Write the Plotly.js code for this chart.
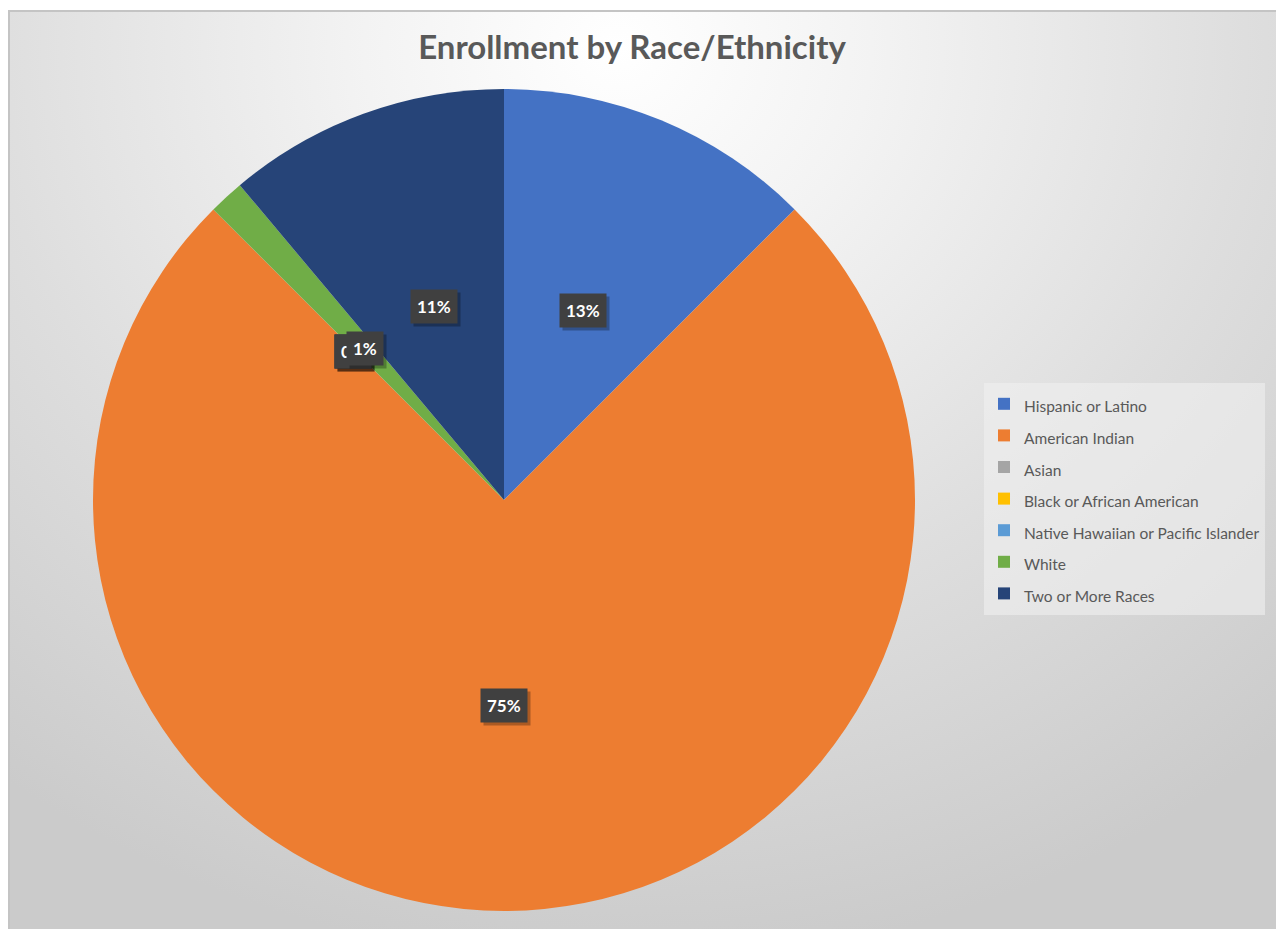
<!DOCTYPE html>
<html>
<head>
<meta charset="utf-8">
<script src="https://cdn.plot.ly/plotly-3.0.1.min.js"></script>
<style>
  html, body { margin: 0; padding: 0; background: #ffffff; }
  #bg {
    position: absolute; left: 8px; top: 10px; width: 1268px; height: 919px;
    box-sizing: border-box;
    border-top: 2px solid #c4c4c4; border-left: 2px solid #c4c4c4;
    background: radial-gradient(ellipse 80% 100% at 48% 4%, #ffffff 0%, #f3f3f3 25%, #dedede 62%, #cbcbcb 100%);
  }
  #chart { position: absolute; left: 0; top: 0; width: 1276px; height: 929px; }
</style>
</head>
<body>
<div id="bg"></div>
<div id="chart"></div>
<script>
// ---- data ----
const categories = ["Hispanic or Latino", "American Indian", "Asian", "Black or African American",
                    "Native Hawaiian or Pacific Islander", "White", "Two or More Races"];
const enrollment = [9, 54, 0, 0, 0, 1, 8];
const sliceColors = ["#4472C4", "#ED7D31", "#A5A5A5", "#FFC000", "#5B9BD5", "#70AD47", "#264478"];
const chartTitle = "Enrollment by Race/Ethnicity";

// ---- geometry of pie domain ----
const W = 1276, H = 929;
const domX = [93 / W, 915 / W];
const domY = [(H - 911) / H, (H - 89) / H];

// legend labels: small text inside a larger legend font gives taller rows
const legendLabels = categories.map(c => '<span style="font-size:15.5px">' + c + '</span>');

const trace = {
  type: 'pie',
  labels: legendLabels,
  values: enrollment,
  sort: false,
  direction: 'clockwise',
  rotation: 0,
  marker: { colors: sliceColors, line: { width: 0 } },
  textinfo: 'none',
  hoverinfo: 'none',
  domain: { x: domX, y: domY },
  showlegend: true
};

// label annotations computed from the data (half radius, slice mid-angle)
const total = enrollment.reduce((a, b) => a + b, 0);
const cx = (domX[0] + domX[1]) / 2, cy = (domY[0] + domY[1]) / 2;
const rx = (domX[1] - domX[0]) / 2, ry = (domY[1] - domY[0]) / 2;
const annotations = [];
let cum = 0;
const labelInfo = enrollment.map((v, i) => {
  const mid = (cum + v / 2) / total * 2 * Math.PI;
  cum += v;
  return { i, v, x: cx + 0.5 * rx * Math.sin(mid), y: cy + 0.5 * ry * Math.cos(mid) };
});
const ordered = labelInfo.filter(d => d.v === 0).concat(labelInfo.filter(d => d.v > 0));
ordered.forEach(d => {
  const txt = '<b>' + Math.round(d.v / total * 100) + '%</b>';
  const zero = d.v === 0;
  annotations.push({
    x: d.x, y: d.y, xref: 'paper', yref: 'paper', text: txt, showarrow: false,
    xanchor: 'center', yanchor: 'middle',
    xshift: 3 + (zero ? -6 : 0), yshift: -3 + (zero ? 3 : 0),
    font: { family: 'Lato, sans-serif', size: 17, color: 'rgba(0,0,0,0)' },
    bgcolor: 'rgba(0,0,0,0.28)', borderpad: 6
  });
  annotations.push({
    x: d.x, y: d.y, xref: 'paper', yref: 'paper', text: txt, showarrow: false,
    xanchor: 'center', yanchor: 'middle',
    xshift: zero ? -6 : 0, yshift: zero ? 3 : 0,
    font: { family: 'Lato, sans-serif', size: 17, color: '#ffffff' },
    bgcolor: '#404040', borderpad: 6
  });
});

const layout = {
  width: W, height: H,
  margin: { l: 0, r: 0, t: 0, b: 0 },
  paper_bgcolor: 'rgba(0,0,0,0)',
  plot_bgcolor: 'rgba(0,0,0,0)',
  title: {
    text: '<b>' + chartTitle + '</b>',
    x: 632 / W, xanchor: 'center', y: 1 - 47 / H, yanchor: 'middle',
    font: { family: 'Lato, sans-serif', size: 33, color: '#595959' }
  },
  legend: {
    x: 984 / W, xanchor: 'left', y: 1 - 383 / H, yanchor: 'top',
    bgcolor: 'rgba(240,240,240,0.6)',
    font: { family: 'Lato, sans-serif', size: 22, color: '#595959' },
    traceorder: 'normal'
  },
  annotations: annotations
};

Plotly.newPlot('chart', [trace], layout, { displayModeBar: false, staticPlot: true });
</script>
</body>
</html>
